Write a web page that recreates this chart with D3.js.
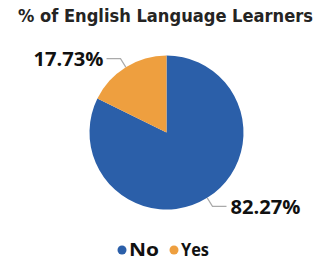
<!DOCTYPE html>
<html>
<head>
<meta charset="utf-8">
<script src="https://cdn.jsdelivr.net/npm/d3@7"></script>
<style>
  body { margin: 0; background: #fff; }
  svg { display: block; }
</style>
</head>
<body>
<div id="chart"></div>
<script>
const categories = ["No", "Yes"];
const values = [82.27, 17.73];
const colors = ["#2B5FA9", "#EE9F3F"];

const width = 326, height = 261;
const cx = 166.5, cy = 132.5, radius = 77, outerR = 87;

const svg = d3.select("#chart")
  .append("svg")
  .attr("width", width)
  .attr("height", height);

// title
svg.append("text")
  .attr("x", 18)
  .attr("y", 22)
  .attr("fill", "#252423")
  .style("font-family", "'DejaVu Sans Condensed', 'DejaVu Sans', sans-serif")
  .style("font-weight", "bold")
  .style("font-size", "17px")
  .attr("textLength", 295)
  .attr("lengthAdjust", "spacingAndGlyphs")
  .text("% of English Language Learners");

const color = d3.scaleOrdinal().domain(categories).range(colors);

const pie = d3.pie().sort(null).value((d, i) => values[i]);
const arcs = pie(categories);

const arc = d3.arc().innerRadius(0).outerRadius(radius);

const g = svg.append("g").attr("transform", `translate(${cx},${cy})`);

g.selectAll("path")
  .data(arcs)
  .join("path")
  .attr("d", arc)
  .attr("fill", (d) => color(d.data));

// leader lines + labels
function pt(a, r) {
  return [r * Math.sin(a), -r * Math.cos(a)];
}

arcs.forEach(function(d, i) {
  const mid = (d.startAngle + d.endAngle) / 2;
  const p0 = pt(mid, radius);
  const p1 = pt(mid, outerR);
  const right = Math.sin(mid) > 0;
  const p2 = [p1[0] + (right ? 14 : -14), p1[1]];

  g.append("polyline")
    .attr("points", [p0, p1, p2].map((p) => p.join(",")).join(" "))
    .attr("fill", "none")
    .attr("stroke", "#aaaaaa")
    .attr("stroke-width", 1.2);

  g.append("text")
    .attr("x", p2[0] + (right ? 4 : -3))
    .attr("y", p2[1] + 7.5)
    .attr("text-anchor", right ? "start" : "end")
    .attr("fill", "#111")
    .style("font-family", "'Open Sans', sans-serif")
    .style("font-weight", "bold")
    .style("font-size", "19px")
    .attr("textLength", 70)
    .attr("lengthAdjust", "spacingAndGlyphs")
    .text(values[i].toFixed(2) + "%");
});

// legend
const legend = svg.append("g").attr("transform", "translate(122,250)");
const legX = [0, 52];
const legW = [30, 28];
categories.forEach(function(c, i) {
  legend.append("circle")
    .attr("cx", legX[i])
    .attr("cy", 0)
    .attr("r", 4.5)
    .attr("fill", color(c));
  legend.append("text")
    .attr("x", legX[i] + 7)
    .attr("y", 6)
    .attr("fill", "#111")
    .style("font-family", "'Open Sans', sans-serif")
    .style("font-weight", "bold")
    .style("font-size", "17px")
    .attr("textLength", legW[i])
    .attr("lengthAdjust", "spacingAndGlyphs")
    .text(c);
});
</script>
</body>
</html>
